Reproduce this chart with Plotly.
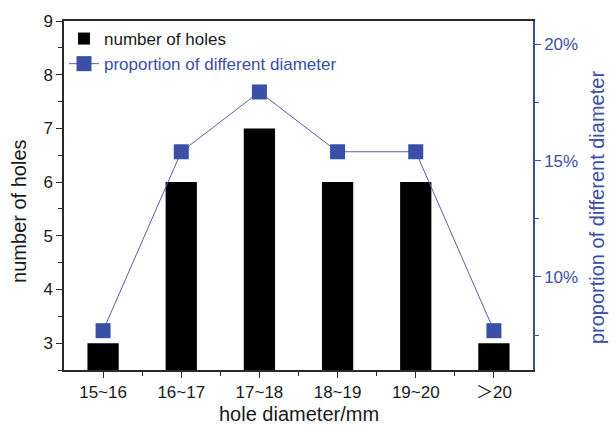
import plotly.graph_objects as go

# Hole diameter classes and counts
categories = ["15~16", "16~17", "17~18", "18~19", "19~20", "＞20"]
hole_counts = [3, 6, 7, 6, 6, 3]
# Share of each diameter class, in percent
proportion_pct = [7.69, 15.38, 17.95, 15.38, 15.38, 7.69]

x_pos = list(range(len(categories)))

BLUE = "#3a4fa6"
LINE_BLUE = "#5a5ea8"
AXIS_DARK = "#2a2a2a"
FONT = "Liberation Sans, Arial, Noto Sans CJK SC, sans-serif"

fig = go.Figure()

fig.add_trace(go.Bar(
    x=x_pos, y=hole_counts, width=0.4,
    marker=dict(color="black", line=dict(width=0)),
    name="number of holes",
))

fig.add_trace(go.Scatter(
    x=x_pos, y=proportion_pct, yaxis="y2",
    mode="lines+markers",
    line=dict(color=LINE_BLUE, width=1),
    marker=dict(symbol="square", size=15, color=BLUE, line=dict(width=0)),
    name=f'<span style="color:{BLUE}">proportion of different diameter</span>',
))

fig.update_layout(
    width=616, height=425,
    margin=dict(l=64, r=83, t=19, b=55),
    paper_bgcolor="white", plot_bgcolor="white",
    font=dict(family=FONT, size=17, color="#1a1a1a"),
    showlegend=True,
    legend=dict(
        x=0.0, y=1.0, xanchor="left", yanchor="top",
        bgcolor="rgba(0,0,0,0)", font=dict(size=17),
        itemwidth=30, tracegroupgap=0,
    ),
    xaxis=dict(
        range=[-0.5, 5.5],
        tickmode="array", tickvals=x_pos, ticktext=categories,
        ticks="outside", ticklen=6, tickwidth=1.2, tickcolor=AXIS_DARK,
        showline=True, linecolor=AXIS_DARK, linewidth=1.5, mirror=True,
        showgrid=False, zeroline=False,
        tickfont=dict(size=17),
        minor=dict(tickmode="array", tickvals=[i + 0.5 for i in x_pos[:-1]],
                   ticks="outside", ticklen=4, tickcolor=AXIS_DARK),
    ),
    yaxis=dict(
        range=[2.5, 9], tick0=0, dtick=1,
        ticks="outside", ticklen=6, tickwidth=1.2, tickcolor=AXIS_DARK,
        showline=True, linecolor=AXIS_DARK, linewidth=1.5,
        showgrid=False, zeroline=False,
        tickfont=dict(size=17),
        minor=dict(dtick=0.5, ticks="outside", ticklen=4, tickcolor=AXIS_DARK),
    ),
    yaxis2=dict(
        overlaying="y", side="right",
        range=[6, 21], tick0=0, dtick=5, ticksuffix="%",
        ticks="outside", ticklen=6, tickwidth=1.2, tickcolor=BLUE,
        showline=True, linecolor=BLUE, linewidth=1.5,
        showgrid=False, zeroline=False,
        tickfont=dict(size=17, color=BLUE),
        minor=dict(dtick=2.5, ticks="outside", ticklen=4, tickcolor=BLUE),
    ),
    annotations=[
        dict(text="hole diameter/mm", xref="paper", yref="paper",
             x=0.5, y=0, yshift=-44, xanchor="center", yanchor="middle",
             showarrow=False, font=dict(size=20)),
        dict(text="number of holes", xref="paper", yref="paper",
             x=0, xshift=-45, y=0.453, textangle=-90,
             xanchor="center", yanchor="middle",
             showarrow=False, font=dict(size=20)),
        dict(text="proportion of different diameter", xref="paper", yref="paper",
             x=1, xshift=64, y=0.464, textangle=-90,
             xanchor="center", yanchor="middle",
             showarrow=False, font=dict(size=20, color=BLUE)),
    ],
)

fig.write_html("out.html")
